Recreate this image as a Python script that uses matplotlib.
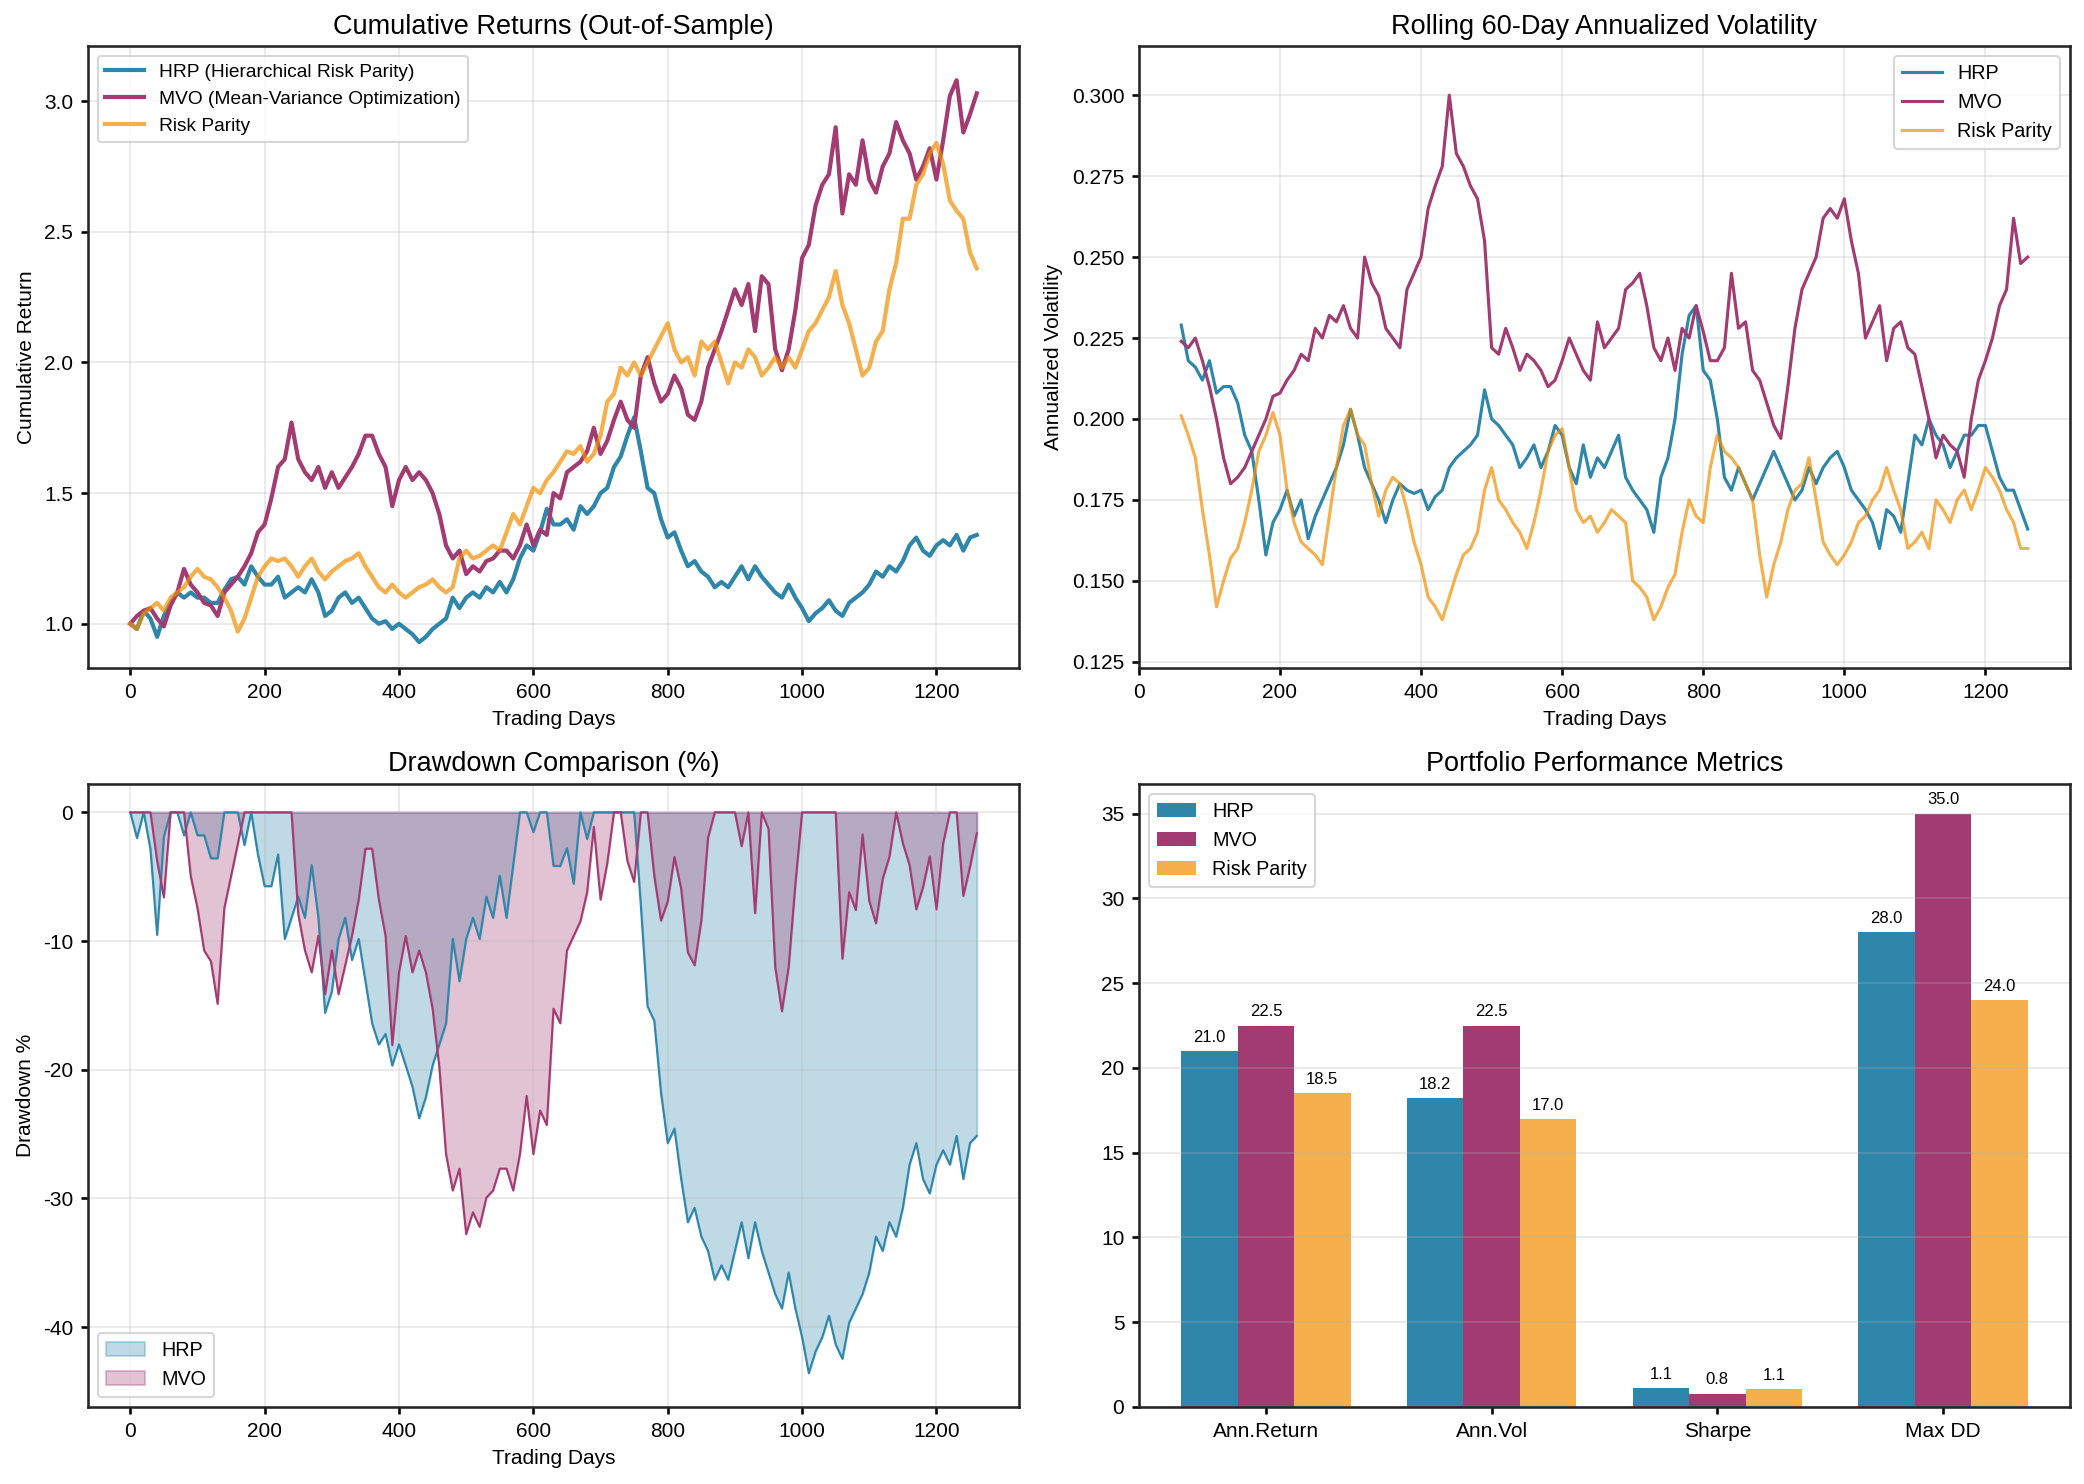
import numpy as np
import matplotlib
matplotlib.use("Agg")
import matplotlib.pyplot as plt

plt.rcParams['font.family'] = ['Liberation Sans', 'DejaVu Sans']
plt.rcParams['axes.unicode_minus'] = False
plt.rcParams['axes.linewidth'] = 1.25
plt.rcParams['axes.edgecolor'] = '#262626'
plt.rcParams['xtick.major.width'] = 1.25
plt.rcParams['ytick.major.width'] = 1.25
plt.rcParams['xtick.labelsize'] = 10
plt.rcParams['ytick.labelsize'] = 10

# colours
HRP_C = '#2E86AB'
MVO_C = '#A23B72'
RP_C = '#F18F01'

# cumulative returns, read every 10 trading days (0..1260)
hrp_cum = [1.00, 0.98, 1.05, 1.02, 0.95, 1.03, 1.08, 1.12, 1.10, 1.12,
           1.10, 1.10, 1.08, 1.08, 1.13, 1.17, 1.18, 1.15, 1.22, 1.18,
           1.15, 1.15, 1.18, 1.10, 1.12, 1.14, 1.12, 1.17, 1.12, 1.03,
           1.05, 1.10, 1.12, 1.08, 1.10, 1.06, 1.02, 1.00, 1.01, 0.98,
           1.00, 0.98, 0.96, 0.93, 0.95, 0.98, 1.00, 1.02, 1.10, 1.06,
           1.10, 1.12, 1.10, 1.14, 1.12, 1.16, 1.12, 1.17, 1.25, 1.30,
           1.28, 1.35, 1.44, 1.38, 1.38, 1.40, 1.36, 1.45, 1.42, 1.45,
           1.50, 1.52, 1.60, 1.64, 1.72, 1.79, 1.66, 1.52, 1.50, 1.40,
           1.33, 1.35, 1.28, 1.22, 1.24, 1.20, 1.18, 1.14, 1.16, 1.14,
           1.18, 1.22, 1.17, 1.22, 1.18, 1.15, 1.12, 1.10, 1.15, 1.10,
           1.06, 1.01, 1.04, 1.06, 1.09, 1.05, 1.03, 1.08, 1.10, 1.12,
           1.15, 1.20, 1.18, 1.22, 1.20, 1.24, 1.30, 1.33, 1.28, 1.26,
           1.30, 1.32, 1.30, 1.34, 1.28, 1.33, 1.34]
mvo_cum = [1.00, 1.03, 1.05, 1.06, 1.02, 0.99, 1.07, 1.12, 1.21, 1.15,
           1.12, 1.08, 1.07, 1.03, 1.12, 1.15, 1.18, 1.22, 1.27, 1.35,
           1.38, 1.48, 1.60, 1.63, 1.77, 1.63, 1.58, 1.55, 1.60, 1.52,
           1.58, 1.52, 1.56, 1.60, 1.65, 1.72, 1.72, 1.65, 1.60, 1.45,
           1.55, 1.60, 1.55, 1.58, 1.55, 1.50, 1.42, 1.30, 1.25, 1.28,
           1.19, 1.22, 1.20, 1.24, 1.25, 1.28, 1.28, 1.25, 1.30, 1.38,
           1.30, 1.36, 1.34, 1.50, 1.48, 1.58, 1.60, 1.62, 1.66, 1.75,
           1.65, 1.70, 1.78, 1.85, 1.78, 1.75, 1.95, 2.02, 1.92, 1.85,
           1.88, 1.95, 1.90, 1.80, 1.78, 1.85, 1.98, 2.05, 2.12, 2.20,
           2.28, 2.22, 2.30, 2.12, 2.33, 2.30, 2.05, 1.97, 2.05, 2.20,
           2.40, 2.45, 2.60, 2.68, 2.72, 2.90, 2.57, 2.72, 2.68, 2.85,
           2.70, 2.65, 2.75, 2.80, 2.92, 2.85, 2.80, 2.70, 2.75, 2.82,
           2.70, 2.85, 3.02, 3.08, 2.88, 2.95, 3.03]
rp_cum = [1.00, 0.98, 1.04, 1.06, 1.08, 1.05, 1.10, 1.12, 1.14, 1.18,
          1.21, 1.18, 1.17, 1.14, 1.10, 1.05, 0.97, 1.02, 1.10, 1.18,
          1.22, 1.25, 1.24, 1.25, 1.22, 1.18, 1.22, 1.25, 1.20, 1.17,
          1.20, 1.22, 1.24, 1.25, 1.27, 1.22, 1.18, 1.14, 1.12, 1.15,
          1.12, 1.10, 1.12, 1.14, 1.15, 1.17, 1.14, 1.12, 1.14, 1.25,
          1.28, 1.25, 1.26, 1.28, 1.30, 1.28, 1.35, 1.42, 1.38, 1.45,
          1.52, 1.50, 1.55, 1.58, 1.62, 1.66, 1.65, 1.68, 1.62, 1.65,
          1.72, 1.85, 1.88, 1.98, 1.95, 2.00, 1.95, 2.00, 2.05, 2.10,
          2.15, 2.05, 2.00, 2.02, 1.95, 2.08, 2.05, 2.08, 2.00, 1.92,
          2.00, 1.98, 2.05, 2.02, 1.95, 1.98, 2.02, 1.98, 2.02, 1.98,
          2.05, 2.12, 2.15, 2.20, 2.25, 2.35, 2.22, 2.15, 2.05, 1.95,
          1.98, 2.08, 2.12, 2.28, 2.38, 2.55, 2.55, 2.68, 2.72, 2.80,
          2.84, 2.76, 2.62, 2.58, 2.55, 2.42, 2.36]

# rolling 60-day annualized volatility, read every 10 days (60..1260)
hrp_vol = [0.229, 0.218, 0.216, 0.212, 0.218, 0.208, 0.210, 0.210, 0.205, 0.195,
           0.190, 0.175, 0.158, 0.168, 0.172, 0.178, 0.170, 0.175, 0.163, 0.170,
           0.175, 0.180, 0.185, 0.192, 0.203, 0.195, 0.185, 0.180, 0.175, 0.168,
           0.175, 0.180, 0.178, 0.177, 0.178, 0.172, 0.176, 0.178, 0.185, 0.188,
           0.190, 0.192, 0.195, 0.209, 0.200, 0.198, 0.195, 0.192, 0.185, 0.188,
           0.192, 0.185, 0.190, 0.198, 0.195, 0.185, 0.180, 0.192, 0.182, 0.188,
           0.185, 0.190, 0.195, 0.182, 0.178, 0.175, 0.172, 0.165, 0.182, 0.188,
           0.200, 0.220, 0.232, 0.235, 0.215, 0.212, 0.200, 0.182, 0.178, 0.185,
           0.180, 0.175, 0.180, 0.185, 0.190, 0.185, 0.180, 0.175, 0.178, 0.185,
           0.180, 0.185, 0.188, 0.190, 0.185, 0.178, 0.175, 0.172, 0.168, 0.160,
           0.172, 0.170, 0.165, 0.180, 0.195, 0.192, 0.200, 0.195, 0.192, 0.185,
           0.190, 0.195, 0.195, 0.198, 0.198, 0.190, 0.182, 0.178, 0.178, 0.172,
           0.166]
mvo_vol = [0.224, 0.222, 0.225, 0.218, 0.210, 0.200, 0.188, 0.180, 0.182, 0.185,
           0.190, 0.195, 0.200, 0.207, 0.208, 0.212, 0.215, 0.220, 0.218, 0.228,
           0.225, 0.232, 0.230, 0.235, 0.228, 0.225, 0.250, 0.242, 0.238, 0.228,
           0.225, 0.222, 0.240, 0.245, 0.250, 0.265, 0.272, 0.278, 0.300, 0.282,
           0.278, 0.272, 0.268, 0.255, 0.222, 0.220, 0.228, 0.222, 0.215, 0.220,
           0.218, 0.215, 0.210, 0.212, 0.218, 0.225, 0.220, 0.215, 0.212, 0.230,
           0.222, 0.225, 0.228, 0.240, 0.242, 0.245, 0.235, 0.222, 0.218, 0.225,
           0.215, 0.228, 0.225, 0.235, 0.227, 0.218, 0.218, 0.222, 0.245, 0.228,
           0.230, 0.215, 0.212, 0.205, 0.198, 0.194, 0.210, 0.228, 0.240, 0.245,
           0.250, 0.262, 0.265, 0.262, 0.268, 0.255, 0.245, 0.225, 0.230, 0.235,
           0.218, 0.228, 0.230, 0.222, 0.220, 0.210, 0.200, 0.188, 0.195, 0.192,
           0.190, 0.182, 0.200, 0.212, 0.218, 0.225, 0.235, 0.240, 0.262, 0.248,
           0.250]
rp_vol = [0.201, 0.195, 0.188, 0.172, 0.158, 0.142, 0.150, 0.157, 0.160, 0.168,
          0.178, 0.190, 0.195, 0.202, 0.195, 0.178, 0.168, 0.162, 0.160, 0.158,
          0.155, 0.170, 0.185, 0.198, 0.203, 0.195, 0.192, 0.180, 0.170, 0.178,
          0.182, 0.180, 0.172, 0.162, 0.155, 0.145, 0.142, 0.138, 0.145, 0.152,
          0.158, 0.160, 0.165, 0.178, 0.185, 0.175, 0.172, 0.168, 0.165, 0.160,
          0.168, 0.178, 0.190, 0.195, 0.197, 0.185, 0.172, 0.168, 0.170, 0.165,
          0.168, 0.172, 0.170, 0.168, 0.150, 0.148, 0.145, 0.138, 0.142, 0.148,
          0.152, 0.165, 0.175, 0.170, 0.168, 0.185, 0.195, 0.190, 0.188, 0.185,
          0.180, 0.175, 0.158, 0.145, 0.155, 0.162, 0.172, 0.178, 0.180, 0.188,
          0.175, 0.162, 0.158, 0.155, 0.158, 0.162, 0.168, 0.170, 0.175, 0.178,
          0.185, 0.178, 0.172, 0.160, 0.162, 0.165, 0.160, 0.175, 0.172, 0.168,
          0.175, 0.178, 0.172, 0.178, 0.185, 0.182, 0.178, 0.172, 0.168, 0.160,
          0.160]

# performance metrics
metrics = ['Ann.Return', 'Ann.Vol', 'Sharpe', 'Max DD']
hrp_metrics = [21.0, 18.2, 1.1, 28.0]
mvo_metrics = [22.5, 22.5, 0.79, 35.0]
rp_metrics = [18.5, 17.0, 1.05, 24.0]

days = np.arange(len(hrp_cum)) * 10
vol_days = 60 + np.arange(len(hrp_vol)) * 10


def drawdown(values):
    v = np.array(values)
    return (v / np.maximum.accumulate(v) - 1) * 100


fig = plt.figure(figsize=(2084 / 150, 1484 / 150), dpi=150)
ax1 = fig.add_axes([0.0422, 0.5499, 0.4468, 0.4191])
ax2 = fig.add_axes([0.5465, 0.5499, 0.4468, 0.4191])
ax3 = fig.add_axes([0.0422, 0.0519, 0.4468, 0.4198])
ax4 = fig.add_axes([0.5465, 0.0519, 0.4468, 0.4198])

# cumulative returns
ax1.plot(days, hrp_cum, color=HRP_C, lw=2, label='HRP (Hierarchical Risk Parity)')
ax1.plot(days, mvo_cum, color=MVO_C, lw=2, label='MVO (Mean-Variance Optimization)')
ax1.plot(days, rp_cum, color=RP_C, lw=2, alpha=0.7, label='Risk Parity')
ax1.set_title('Cumulative Returns (Out-of-Sample)', fontsize=13)
ax1.set_xlabel('Trading Days', fontsize=10)
ax1.set_ylabel('Cumulative Return', fontsize=10)
ax1.set_xlim(-63, 1323)
ax1.set_ylim(0.831, 3.211)
ax1.legend(loc='upper left', fontsize=9.2)
ax1.grid(True, alpha=0.3)

# rolling volatility
ax2.plot(vol_days, hrp_vol, color=HRP_C, lw=1.5, label='HRP')
ax2.plot(vol_days, mvo_vol, color=MVO_C, lw=1.5, label='MVO')
ax2.plot(vol_days, rp_vol, color=RP_C, lw=1.5, alpha=0.7, label='Risk Parity')
ax2.set_title('Rolling 60-Day Annualized Volatility', fontsize=13)
ax2.set_xlabel('Trading Days', fontsize=10)
ax2.set_ylabel('Annualized Volatility', fontsize=10)
ax2.set_xlim(0, 1320)
ax2.set_ylim(0.1231, 0.3152)
ax2.legend(loc='upper right', fontsize=9.5)
ax2.grid(True, alpha=0.3)

# drawdowns
hrp_dd = drawdown(hrp_cum)
mvo_dd = drawdown(mvo_cum)
ax3.fill_between(days, hrp_dd, 0, color=HRP_C, alpha=0.3, label='HRP')
ax3.fill_between(days, mvo_dd, 0, color=MVO_C, alpha=0.3, label='MVO')
ax3.plot(days, hrp_dd, color=HRP_C, lw=1)
ax3.plot(days, mvo_dd, color=MVO_C, lw=1)
ax3.set_title('Drawdown Comparison (%)', fontsize=13)
ax3.set_xlabel('Trading Days', fontsize=10)
ax3.set_ylabel('Drawdown %', fontsize=10)
ax3.set_xlim(-63, 1323)
ax3.set_ylim(-46.2, 2.2)
ax3.legend(loc='lower left', fontsize=9.5)
ax3.grid(True, alpha=0.3)

# metrics bars
x = np.arange(len(metrics))
w = 0.25
groups = [(hrp_metrics, HRP_C, 1.0, 'HRP', -w),
          (mvo_metrics, MVO_C, 1.0, 'MVO', 0),
          (rp_metrics, RP_C, 0.7, 'Risk Parity', w)]
for vals, col, a, lab, off in groups:
    bars = ax4.bar(x + off, vals, w, color=col, alpha=a, label=lab)
    for b, v in zip(bars, vals):
        ax4.annotate(f'{v:.1f}', (b.get_x() + b.get_width() / 2, b.get_height()),
                     xytext=(0, 3), textcoords='offset points',
                     ha='center', va='bottom', fontsize=8)
ax4.set_xticks(x)
ax4.set_xticklabels(metrics)
ax4.set_title('Portfolio Performance Metrics', fontsize=13)
ax4.set_ylim(0, 36.75)
ax4.legend(loc='upper left', fontsize=9.5)
ax4.grid(True, alpha=0.3, axis='y')

fig.savefig('out.png', dpi=150)
